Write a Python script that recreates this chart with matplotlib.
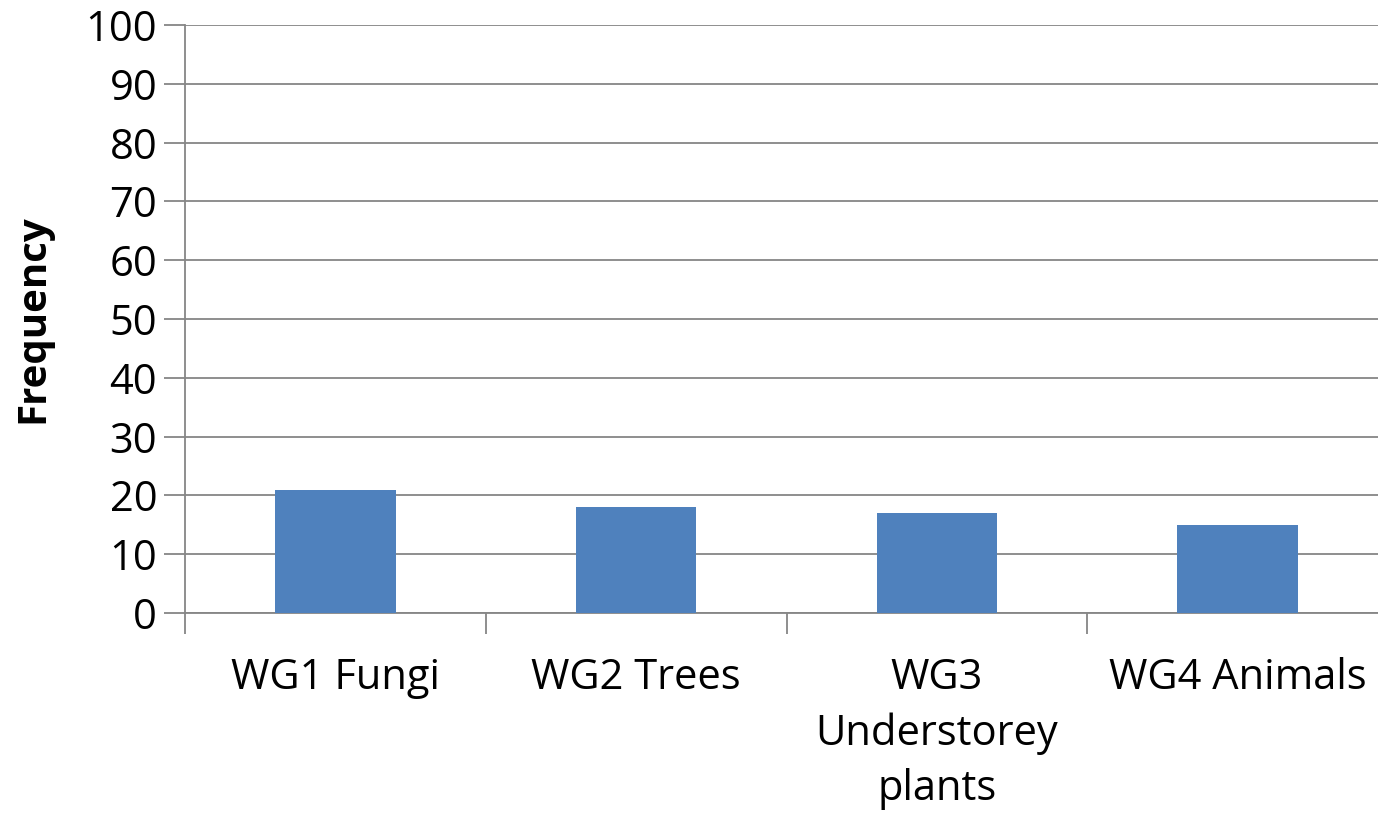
import numpy as np
import matplotlib
matplotlib.use('Agg')
from matplotlib import pyplot as plt

plt.rcParams['font.family'] = ['Open Sans', 'DejaVu Sans']

categories = ['WG1 Fungi', 'WG2 Trees', 'WG3\nUnderstorey\nplants', 'WG4 Animals']
frequency = [21, 18, 17, 15]
y_ticks = list(range(0, 101, 10))

fig = plt.figure(figsize=(13.78, 8.16), dpi=100)
ax = fig.add_axes([185 / 1378, 1 - 613 / 816, (1388 - 185) / 1378, (613 - 25) / 816])

x = np.arange(len(categories))
ax.bar(x, frequency, width=0.4, color='#4F81BD', zorder=3)

ax.set_xlim(-0.5, len(categories) - 0.5)
ax.set_ylim(0, 100)
ax.set_yticks(y_ticks)
ax.yaxis.grid(True, color='#868686', linewidth=1.3, zorder=0)

ax.set_xticks(x)
ax.set_xticklabels(categories, fontsize=30, linespacing=1.4)
ax.set_xticks(np.arange(len(categories) + 1) - 0.5, minor=True)
ax.tick_params(axis='x', which='major', length=0, pad=32)
ax.tick_params(axis='x', which='minor', length=15, color='#868686', width=1.3)
ax.tick_params(axis='y', labelsize=30, length=15, color='#868686', width=1.3, pad=5)

for side in ['top', 'right']:
    ax.spines[side].set_visible(False)
for side in ['left', 'bottom']:
    ax.spines[side].set_color('#868686')
    ax.spines[side].set_linewidth(1.3)

ax.set_ylabel('Frequency', fontsize=29, fontweight='bold', labelpad=24)

fig.savefig('out.png', dpi=100)
